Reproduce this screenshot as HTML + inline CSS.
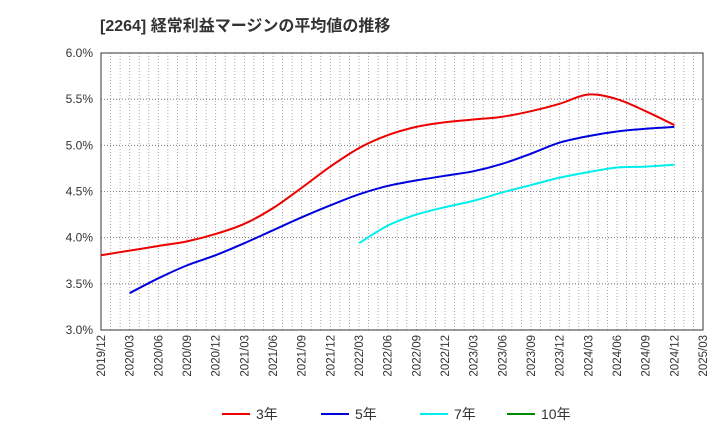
<!DOCTYPE html>
<html><head><meta charset="utf-8"><style>
body{margin:0;background:#fff;font-family:"Liberation Sans","Noto Sans CJK JP",sans-serif}
</style></head><body>
<svg id="c" width="720" height="440" xmlns="http://www.w3.org/2000/svg">
<text x="100" y="31" font-size="16" font-weight="bold" fill="#333">[2264]  経常利益マージンの平均値の推移</text>
</svg>
<script>
const xLabels=["2019/12","2020/03","2020/06","2020/09","2020/12","2021/03","2021/06","2021/09","2021/12","2022/03","2022/06","2022/09","2022/12","2023/03","2023/06","2023/09","2023/12","2024/03","2024/06","2024/09","2024/12","2025/03"];
const yTicks=[3.0,3.5,4.0,4.5,5.0,5.5,6.0];
const s3=[3.81,3.86,3.91,3.96,4.04,4.15,4.32,4.54,4.77,4.97,5.11,5.20,5.25,5.28,5.31,5.37,5.45,5.55,5.50,5.37,5.22];
const s5=[null,3.40,3.56,3.70,3.81,3.94,4.08,4.22,4.35,4.47,4.56,4.62,4.67,4.72,4.80,4.91,5.03,5.10,5.15,5.18,5.20];
const s7=[null,null,null,null,null,null,null,null,null,3.94,4.13,4.25,4.33,4.40,4.49,4.57,4.65,4.71,4.76,4.77,4.79];
const s10=[];
const L=101,R=703,T=53,B=330;
const svg=document.getElementById('c');const NS="http://www.w3.org/2000/svg";
const X=i=>L+(R-L)*i/(xLabels.length-1);
const Y=v=>B-(v-3.0)/3.0*(B-T);
function mk(t,a){const e=document.createElementNS(NS,t);for(const k in a)e.setAttribute(k,a[k]);svg.appendChild(e);return e;}
const months=(xLabels.length-1)*3;
for(let m=1;m<months;m++){const x=L+(R-L)*m/months;
const g=mk('line',{x1:x,x2:x,y1:T,y2:B,stroke:'#999','stroke-dasharray':'1,2','stroke-width':0.8});

}
yTicks.forEach(v=>{const y=Y(v);
const g=mk('line',{x1:L,x2:R,y1:y,y2:y,stroke:'#666','stroke-dasharray':'1,2','stroke-width':0.8});


const t=mk('text',{x:L-8,y:y+4,'text-anchor':'end','font-size':12,fill:'#333'});t.textContent=v.toFixed(1)+'%';

});
const fr=mk('rect',{x:L,y:T,width:R-L,height:B-T,fill:'none',stroke:'#333','stroke-width':1});


xLabels.forEach((l,i)=>{const x=X(i);
const t=mk('text',{x:x+4,y:B+5,'text-anchor':'end','font-size':11.5,fill:'#333',transform:`rotate(-90 ${x+4} ${B+5})`});t.textContent=l;

});
function path(arr,color,name){const p=[];arr.forEach((v,i)=>{if(v!=null)p.push([X(i),Y(v)]);});if(p.length<2)return;
let d=`M${p[0][0]},${p[0][1]}`;
for(let i=0;i<p.length-1;i++){const p0=p[i-1]||p[i],p1=p[i],p2=p[i+1],p3=p[i+2]||p2;
d+=` C${p1[0]+(p2[0]-p0[0])/6},${p1[1]+(p2[1]-p0[1])/6} ${p2[0]-(p3[0]-p1[0])/6},${p2[1]-(p3[1]-p1[1])/6} ${p2[0]},${p2[1]}`;}
const e=mk('path',{d:d,fill:'none',stroke:color,'stroke-width':2});

}
path(s3,'#e00','line-3y');path(s5,'#00d','line-5y');path(s7,'#0ee','line-7y');path(s10,'#080','line-10y');
[["3年","#e00",222],["5年","#00d",321],["7年","#0ee",420],["10年","#080",507]].forEach(([n,c,x])=>{
const l=mk('line',{x1:x,x2:x+28,y1:414,y2:414,stroke:c,'stroke-width':2});


const t=mk('text',{x:x+34,y:419,'font-size':14,fill:'#333'});t.textContent=n;

});
</script>
</body></html>
